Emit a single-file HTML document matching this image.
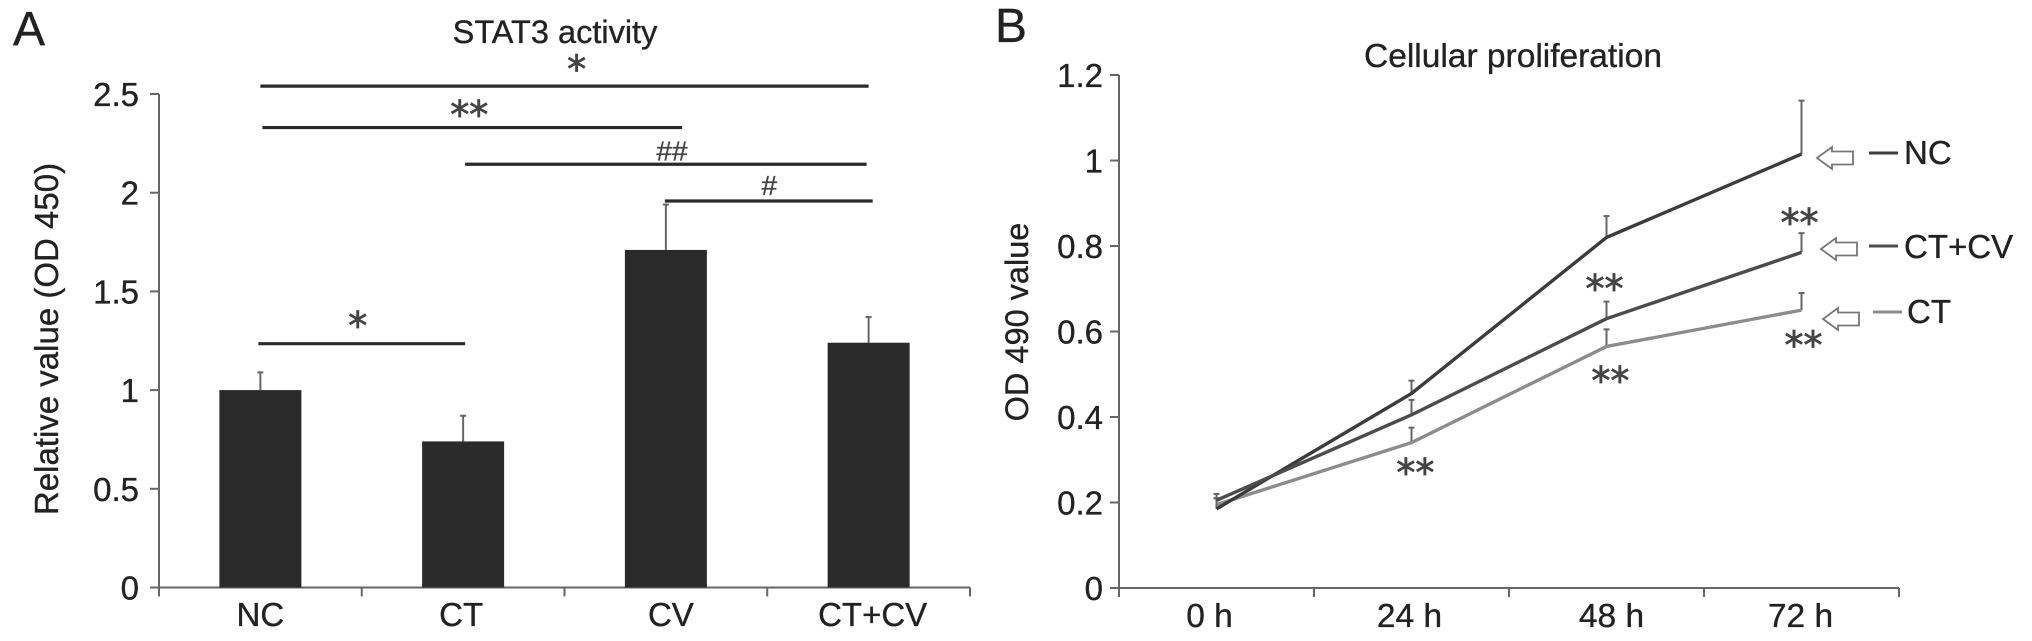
<!DOCTYPE html>
<html lang="en">
<head>
<meta charset="utf-8">
<title>STAT3 activity and cellular proliferation</title>
<style>
html,body{margin:0;padding:0;background:#fff;}
svg{display:block;}
text{font-family:"Liberation Sans",Arial,sans-serif;fill:#222;stroke:#222;stroke-width:0.35px;}
</style>
</head>
<body>
<svg id="fig" xmlns="http://www.w3.org/2000/svg" width="2032" height="641" viewBox="0 0 2032 641"></svg>
<script>
// ---------- Panel A data ----------
const barCategories = ["NC", "CT", "CV", "CT+CV"];
const barValues = [1.0, 0.74, 1.71, 1.24];
const barErrorTops = [1.09, 0.87, 1.94, 1.37];
const barTicks = [0, 0.5, 1, 1.5, 2, 2.5];
const barTickLabels = ["0", "0.5", "1", "1.5", "2", "2.5"];
const bracketFrom = [0, 0.01, 1.01, 1.995, -0.01];
const bracketTo = [3, 2.08, 2.99, 3.02, 1.01];
const bracketLevels = [2.54, 2.33, 2.144, 1.958, 1.235];
const markText = ["*", "**", "##", "#", "*"];
const markCat = [1.56, 1.03, 2.03, 2.51, 0.48];
const markLevels = [2.66, 2.43, 2.215, 2.04, 1.36];

// ---------- Panel B data ----------
const timeCategories = ["0 h", "24 h", "48 h", "72 h"];
const lineNC = [0.185, 0.455, 0.82, 1.015];
const lineCTCV = [0.205, 0.405, 0.63, 0.785];
const lineCT = [0.195, 0.34, 0.565, 0.65];
const errNC = [0.21, 0.485, 0.87, 1.14];
const errCTCV = [0.22, 0.44, 0.67, 0.83];
const errCT = [0.21, 0.375, 0.605, 0.69];
const lineTicks = [0, 0.2, 0.4, 0.6, 0.8, 1, 1.2];
const lineTickLabels = ["0", "0.2", "0.4", "0.6", "0.8", "1", "1.2"];
const starCat = [1.02, 2.02, 1.99, 3.01, 2.99];
const starLevels = [0.285, 0.501, 0.716, 0.584, 0.87];

// ---------- Helpers ----------
const svg = document.getElementById('fig');
const NS = 'http://www.w3.org/2000/svg';
function make(tag, attrs, parent) {
  const el = document.createElementNS(NS, tag);
  for (const k in attrs) el.setAttribute(k, attrs[k]);
  (parent || svg).appendChild(el);
  return el;
}
function label(str, x, y, size, anchor, parent) {
  const t = make('text', {x: x, y: y, 'font-size': size, 'text-anchor': anchor || 'start'}, parent);
  t.textContent = str;
  return t;
}

// ---------- Panel A ----------
const ax = {x0: 159, x1: 970, y0: 587.5, yTop: 94, max: 2.5};
const ay = v => ax.y0 - (v / ax.max) * (ax.y0 - ax.yTop);
const aBand = (ax.x1 - ax.x0) / barCategories.length;
const aCx = i => ax.x0 + aBand * (i + 0.5);

const pa = make('g', {});



const letterA = label('A', 13, 45, 48, 'start', pa);



const titleA = label('STAT3 activity', 555, 43, 32.5, 'middle', pa);



const yTitleA = label('Relative value (OD 450)', 0, 0, 33, 'middle', pa);
yTitleA.setAttribute('transform', 'translate(58 339) rotate(-90)');



const yAxisA = make('line', {x1: ax.x0, x2: ax.x0, y1: ax.yTop, y2: ax.y0 + 8, stroke: '#666', 'stroke-width': 2}, pa);



const xAxisA = make('line', {x1: ax.x0 - 9, x2: ax.x1, y1: ax.y0, y2: ax.y0, stroke: '#666', 'stroke-width': 2}, pa);



barTicks.forEach((v, i) => {
  const tick = make('line', {x1: ax.x0 - 9, x2: ax.x0, y1: ay(v), y2: ay(v), stroke: '#666', 'stroke-width': 2}, pa);
  
  
  const t = label(barTickLabels[i], 139, ay(v) + 12, 33, 'end', pa);
  
  
});

for (let i = 0; i <= barCategories.length; i++) {
  const px = ax.x0 + aBand * i;
  const tick = make('line', {x1: px, x2: px, y1: ax.y0, y2: ax.y0 + 9, stroke: '#666', 'stroke-width': 2}, pa);
  
  
}

const barLabelNudge = [0, -2, 5, 4];
barCategories.forEach((c, i) => {
  const cx = aCx(i);
  const err = make('line', {x1: cx, x2: cx, y1: ay(barErrorTops[i]), y2: ay(barValues[i]), stroke: '#666', 'stroke-width': 2}, pa);
  
  
  const cap = make('line', {x1: cx - 3, x2: cx + 3, y1: ay(barErrorTops[i]), y2: ay(barErrorTops[i]), stroke: '#666', 'stroke-width': 2}, pa);
  
  
  const bar = make('rect', {x: cx - 41, y: ay(barValues[i]), width: 82, height: ax.y0 - ay(barValues[i]), fill: '#2a2a2a'}, pa);
  
  
  const t = label(c, cx + barLabelNudge[i], 626, 33, 'middle', pa);
  
  
});

bracketLevels.forEach((lv, i) => {
  const br = make('line', {x1: aCx(bracketFrom[i]), x2: aCx(bracketTo[i]), y1: ay(lv), y2: ay(lv), stroke: '#2a2a2a', 'stroke-width': 3.2}, pa);
  
  
});

markText.forEach((s, i) => {
  const isHash = s.charAt(0) === '#';
  const m = label(s, aCx(markCat[i]), ay(markLevels[i]) + (isHash ? 10 : 20), isHash ? 28 : 38, 'middle', pa);
  m.setAttribute('style', isHash ? 'fill:#444;stroke:#444' : 'fill:#444;stroke:#444;stroke-width:0.8px;font-family:"DejaVu Sans",sans-serif');
  
  
});

// ---------- Panel B ----------
const bx = {x0: 1119, x1: 1899, y0: 588, yTop: 75, max: 1.2};
const by = v => bx.y0 - (v / bx.max) * (bx.y0 - bx.yTop);
const bBand = (bx.x1 - bx.x0) / timeCategories.length;
const bCx = i => bx.x0 + bBand * (i + 0.5);

const pb = make('g', {});



const letterB = label('B', 995, 42, 48, 'start', pb);



const titleB = label('Cellular proliferation', 1513, 67, 33.5, 'middle', pb);



const yTitleB = label('OD 490 value', 0, 0, 32.5, 'middle', pb);
yTitleB.setAttribute('transform', 'translate(1028 322) rotate(-90)');



const yAxisB = make('line', {x1: bx.x0, x2: bx.x0, y1: bx.yTop, y2: bx.y0 + 8, stroke: '#666', 'stroke-width': 2}, pb);



const xAxisB = make('line', {x1: bx.x0 - 9, x2: bx.x1, y1: bx.y0, y2: bx.y0, stroke: '#666', 'stroke-width': 2}, pb);



lineTicks.forEach((v, i) => {
  const tick = make('line', {x1: bx.x0 - 9, x2: bx.x0, y1: by(v), y2: by(v), stroke: '#666', 'stroke-width': 2}, pb);
  
  
  const t = label(lineTickLabels[i], 1103, by(v) + 12, 33, 'end', pb);
  
  
});

for (let i = 0; i <= timeCategories.length; i++) {
  const px = bx.x0 + bBand * i;
  const tick = make('line', {x1: px, x2: px, y1: bx.y0, y2: bx.y0 + 9, stroke: '#666', 'stroke-width': 2}, pb);
  
  
}

const xLabelNudge = [-7, -2, 5, -1];
timeCategories.forEach((c, i) => {
  const t = label(c, bCx(i) + xLabelNudge[i], 627, 33.5, 'middle', pb);
  
  
});

function drawSeries(values, errors, color, name) {
  errors.forEach((top, i) => {
    const cx = bCx(i);
    const e = make('line', {x1: cx, x2: cx, y1: by(top), y2: by(values[i]), stroke: '#666', 'stroke-width': 2}, pb);
    
    
    const c = make('line', {x1: cx - 3, x2: cx + 3, y1: by(top), y2: by(top), stroke: '#666', 'stroke-width': 2}, pb);
    
    
  });
  const pts = values.map((v, i) => bCx(i) + ',' + by(v)).join(' ');
  const pl = make('polyline', {points: pts, fill: 'none', stroke: color, 'stroke-width': 3.4, 'stroke-linejoin': 'round'}, pb);
  
  
}
drawSeries(lineCT, errCT, '#8c8c8c', 'ct');
drawSeries(lineNC, errNC, '#3c3c3c', 'nc');
drawSeries(lineCTCV, errCTCV, '#4c4c4c', 'ct-cv');

starLevels.forEach((lv, i) => {
  const m = label('**', bCx(starCat[i]), by(lv) + 20, 38, 'middle', pb);
  m.setAttribute('style', 'fill:#444;stroke:#444;stroke-width:0.8px;font-family:"DejaVu Sans",sans-serif');
  
  
});

// ---------- Legend ----------
function legendEntry(text, name, color, arrowX, arrowY, dashX, dashY, textX, baseY) {
  const g = make('g', {}, pb);
  
  
  const d = 'M0 0 L15 -11 L15 -6.5 L36 -6.5 L36 6.5 L15 6.5 L15 11 Z';
  const a = make('path', {d: d, transform: 'translate(' + arrowX + ' ' + arrowY + ')', fill: '#fff', stroke: '#777', 'stroke-width': 1.8}, g);
  
  
  const l = make('line', {x1: dashX, x2: dashX + 29, y1: dashY, y2: dashY, stroke: color, 'stroke-width': 3}, g);
  
  
  const t = label(text, textX, baseY, 33, 'start', g);
  
  
}
legendEntry('NC', 'nc', '#3c3c3c', 1817, 158, 1869, 153, 1904, 164);
legendEntry('CT+CV', 'ct-cv', '#4c4c4c', 1821, 249, 1869, 246, 1904, 258);
legendEntry('CT', 'ct', '#8c8c8c', 1823, 319, 1873, 312, 1907, 323);
</script>
</body>
</html>
